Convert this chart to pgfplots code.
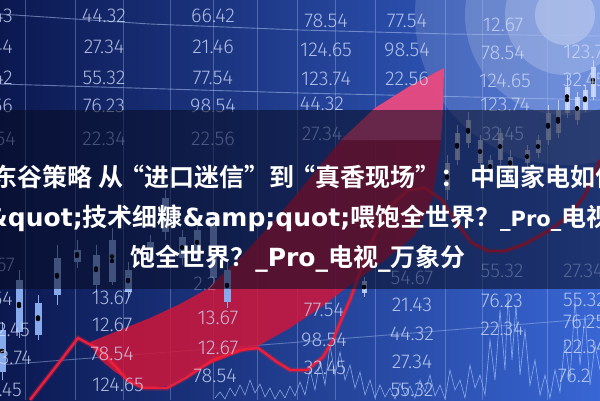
\documentclass[border=0pt]{standalone}
\usepackage{pgfplots}
\pgfplotsset{compat=1.18}
\usepackage{fontspec}
\setmainfont{Liberation Sans}
\newfontfamily\numfont{Fira Sans Light}
\newfontfamily\cjk{Noto Sans CJK SC Bold}
\newfontfamily\latfont{DejaVu Sans Bold}
\newcommand\latx[1]{{\latfont #1}}
\newcommand\latsm[1]{{\latfont\fontsize{21}{21}\selectfont #1}}
\pgfdeclarelayer{bglayer}
\pgfsetlayers{bglayer,main}
\definecolor{bgL}{HTML}{0B1850}
\definecolor{bgM}{HTML}{1F3C96}
\definecolor{bgR}{HTML}{3866D4}
\definecolor{numc}{HTML}{D2DEFA}
\definecolor{gridc}{HTML}{A8C0F0}
\definecolor{pinkc}{HTML}{EC5A94}
\definecolor{redc}{HTML}{D0163A}
\definecolor{lineR}{HTML}{EC1E3C}
\definecolor{candleW}{HTML}{D6E2FF}
\definecolor{candleB}{HTML}{86AAEC}
\definecolor{bandc}{HTML}{070B20}
\definecolor{noisec}{HTML}{A8C6FF}
\begin{document}
\begin{tikzpicture}
\begin{axis}[
  scale only axis, width=600pt, height=400pt,
  xmin=0, xmax=600, ymin=0, ymax=400, y dir=reverse,
  hide axis, clip=false,
]
\coordinate (O) at (axis cs:0,0);
\coordinate (SW) at (axis cs:0,400);
\coordinate (NE) at (axis cs:600,0);
% grid lines
\addplot[gridc, line width=0.6pt, opacity=0.35] coordinates {(25,0) (25,400)};
\addplot[gridc, line width=0.6pt, opacity=0.35] coordinates {(75,0) (75,400)};
\addplot[gridc, line width=0.6pt, opacity=0.35] coordinates {(123,0) (123,400)};
\addplot[gridc, line width=0.6pt, opacity=0.35] coordinates {(170,0) (170,400)};
\addplot[gridc, line width=0.6pt, opacity=0.35] coordinates {(213,0) (213,400)};
\addplot[gridc, line width=0.6pt, opacity=0.35] coordinates {(257,0) (257,400)};
\addplot[gridc, line width=0.6pt, opacity=0.35] coordinates {(297,0) (297,400)};
\addplot[gridc, line width=0.6pt, opacity=0.35] coordinates {(335,0) (335,400)};
\addplot[gridc, line width=0.6pt, opacity=0.35] coordinates {(375,0) (375,400)};
\addplot[gridc, line width=0.6pt, opacity=0.35] coordinates {(445,0) (445,400)};
\addplot[gridc, line width=0.6pt, opacity=0.35] coordinates {(482,0) (482,400)};
\addplot[gridc, line width=0.6pt, opacity=0.35] coordinates {(547,0) (547,400)};
\addplot[gridc, line width=0.9pt, opacity=0.55] coordinates {(0,14) (150,24) (300,30) (450,34) (600,36)};
\addplot[gridc, line width=0.9pt, opacity=0.55] coordinates {(0,84) (300,93) (600,100)};
\addplot[gridc, line width=0.9pt, opacity=0.45] coordinates {(0,365) (300,342) (600,318)};
% red swoosh
\addplot[draw=none, fill=redc, fill opacity=0.85] coordinates {
 (90,342) (120,330) (150,318) (180,304) (207,289) (240,258) (275,220) (310,178) (341,140) (375,108) (410,86) (444,68)
 (443,107) (440,150) (432,200) (415,235) (385,260) (350,285) (320,308) (290,328) (258,346) (230,356) (200,368)
 (167,386) (143,388) (115,372) (98,358) (90,342)};
\addplot[draw=none, fill=pinkc, fill opacity=0.75] coordinates {
 (341,140) (375,108) (410,86) (444,68) (443,107) (441,140) (341,140)};
% candles: wicks and bodies (y in pixels from top)
\addplot[only marks, mark=none, error bars/.cd, y dir=both, y explicit, error mark=none,
  error bar style={draw=candleW, line width=1pt, draw opacity=0.8}] coordinates {
 (447,177.5) +- (0,22.5) (457,145) +- (0,20) (468,130) +- (0,18) (480,151.5) +- (0,16.5)
 (490,166.5) +- (0,11.5) (500,146.5) +- (0,18.5) (510,162.5) +- (0,12.5) (527,156.5) +- (0,11.5)
 (538,146.5) +- (0,11.5) (548,125) +- (0,20) (558,119) +- (0,19) (567,96.5) +- (0,21.5)
 (577,108.5) +- (0,16.5) (585,98.5) +- (0,13.5) (593,80) +- (0,20) (364,287) +- (0,10)};
\addplot[only marks, mark=none, error bars/.cd, y dir=both, y explicit, error mark=none,
  error bar style={draw=candleW, line width=5pt, draw opacity=0.8}] coordinates {
 (447,176.5) +- (0,13.5) (457,146.5) +- (0,13.5) (468,131.5) +- (0,11.5) (480,151.5) +- (0,11.5)
 (490,166.5) +- (0,6.5) (500,146.5) +- (0,13.5) (510,163.5) +- (0,6.5) (527,156.5) +- (0,6.5)
 (538,146.5) +- (0,6.5) (548,126.5) +- (0,13.5) (558,121.5) +- (0,11.5) (567,100) +- (0,13)
 (577,108.5) +- (0,11.5) (585,100) +- (0,10) (593,82) +- (0,15) (364,287) +- (0,6)};
\addplot[only marks, mark=none, error bars/.cd, y dir=both, y explicit, error mark=none,
  error bar style={draw=candleB, line width=1pt}] coordinates {
 (2,351) +- (0,29) (19,304) +- (0,34) (38,317.5) +- (0,22.5) (57,275) +- (0,30)
 (77,254) +- (0,14) (96,268.5) +- (0,23.5) (112,256.5) +- (0,28.5) (128,280) +- (0,18)
 (150,250) +- (0,15) (165,215) +- (0,25) (182,247.5) +- (0,17.5) (197,242) +- (0,20)
 (213,248.5) +- (0,33.5) (227,285) +- (0,23)};
\addplot[only marks, mark=none, error bars/.cd, y dir=both, y explicit, error mark=none,
  error bar style={draw=candleB, line width=7pt}] coordinates {
 (2,351) +- (0,21) (19,306) +- (0,26) (38,319) +- (0,16) (57,276.5) +- (0,18.5)
 (77,256) +- (0,6) (96,270) +- (0,15) (112,261) +- (0,21) (128,281) +- (0,11)
 (150,251) +- (0,9) (165,215) +- (0,17) (182,247.5) +- (0,10.5) (197,242.5) +- (0,12.5)
 (213,250) +- (0,28) (227,286) +- (0,16)};
% noise waveform
\addplot[noisec, line width=0.6pt, opacity=0.75] coordinates {
 (215,398) (220,392) (225,399) (230,388) (235,396) (240,385) (245,395) (250,380) (255,393) (260,384)
 (265,397) (270,388) (275,399) (280,390) (285,398) (290,386) (295,396) (300,382) (305,395) (310,370)
 (315,390) (320,360) (325,385) (330,345) (335,375) (340,352) (345,380) (350,365) (355,388) (360,372)
 (365,395) (370,380) (375,398) (380,385) (385,397) (390,388) (395,399) (400,383) (405,395) (410,386)
 (415,398) (420,380) (425,392) (430,375) (435,396) (440,385) (445,399) (450,370) (455,390) (460,380)
 (465,398) (470,365) (475,388) (480,375) (485,395) (490,340) (495,380) (500,310) (505,370) (508,295)
 (512,360) (516,305) (520,375) (525,330) (530,385) (535,360) (540,395) (545,375) (550,398) (555,370)
 (560,392) (565,340) (570,380) (575,300) (580,365) (585,315) (590,385) (595,345) (600,370)};
% red line
\addplot[lineR, line width=5pt, opacity=0.3] coordinates {
 (30,400) (55,368) (78,338) (100,350) (115,366) (127,380) (143,388) (167,388) (187,377) (213,360)
 (240,350) (258,348) (277,362) (290,370) (307,370) (323,357) (333,340) (342,318) (350,300) (358,278)
 (366,255) (378,228) (392,205) (408,190) (425,188) (442,200) (458,225) (472,243) (488,251) (505,251)
 (525,244) (550,230) (570,215) (585,195) (595,172) (600,160)};
\addplot[lineR, line width=2.4pt] coordinates {
 (30,400) (55,368) (78,338) (100,350) (115,366) (127,380) (143,388) (167,388) (187,377) (213,360)
 (240,350) (258,348) (277,362) (290,370) (307,370) (323,357) (333,340) (342,318) (350,300) (358,278)
 (366,255) (378,228) (392,205) (408,190) (425,188) (442,200) (458,225) (472,243) (488,251) (505,251)
 (525,244) (550,230) (570,215) (585,195) (595,172) (600,160)};
\end{axis}
% background, below the axis
\begin{pgfonlayer}{bglayer}
\begin{scope}[shift={(O)}, x=1pt, y=-1pt]
\clip (0,0) rectangle (600,400);
\shade[left color=bgL, middle color=bgM, right color=bgR] (0,0) rectangle (600,400);
\fill[white, opacity=0.14] (565,15) circle[radius=150pt];
\fill[white, opacity=0.16] (565,15) circle[radius=100pt];
\fill[white, opacity=0.2] (565,15) circle[radius=60pt];
\fill[white, opacity=0.25] (565,15) circle[radius=30pt];
\end{scope}
\end{pgfonlayer}
% numbers, band and title, above the axis
\begin{scope}[shift={(O)}, x=1pt, y=-1pt]
\clip (0,0) rectangle (600,400);
\begin{scope}[every node/.style={inner sep=0pt, font=\numfont\fontsize{20}{20}\selectfont, text=numc, text opacity=0.8}]
\node[anchor=east] at (13,16) {12.43};
\node[anchor=east] at (13,47) {21.44};
\node[anchor=east] at (13,78) {98.42};
\node[anchor=east] at (13,106) {77.56};
\node at (104,16) {44.32};
\node at (104,47) {27.34};
\node at (104,78) {55.32};
\node at (104,106) {76.23};
\node at (213,16) {66.42};
\node at (213,47) {21.46};
\node at (213,78) {77.54};
\node at (213,106) {98.54};
\node at (326,21) {78.54};
\node at (326,50) {124.65};
\node at (326,79) {123.74};
\node at (322,104) {44.32};
\node at (407,21) {77.54};
\node at (407,50) {98.54};
\node at (407,79) {22.56};
\node at (503,25) {12.67};
\node at (503,53) {78.54};
\node at (505,81) {124.65};
\node at (505,105) {123.74};
\node[anchor=west] at (563,52) {123.74};
\node[anchor=west] at (563,80) {32.45};
\node[anchor=east] at (13,299) {78.54};
\node[anchor=east] at (30,330) {32.45};
\node[anchor=east] at (32,358) {123.74};
\node[anchor=east] at (22,390) {32.45};
\node at (112,298) {13.67};
\node at (112,325) {12.67};
\node at (112,354) {78.54};
\node at (118,385) {124.65};
\node at (218,318) {13.67};
\node at (218,348) {12.67};
\node at (215,376) {78.54};
\node at (324,310) {77.54};
\node at (324,340) {98.54};
\node at (325,368) {32.45};
\node at (412,305) {21.43};
\node at (412,334) {44.32};
\node at (412,362) {27.34};
\node at (412,390) {55.32};
\node at (502,301) {76.23};
\node at (502,329) {22.34};
\node[anchor=west] at (563,300) {55.32};
\node[anchor=west] at (563,322) {76.25};
\node[anchor=west] at (563,347) {22.34};
\node[anchor=west] at (558,376) {76.2};
\end{scope}
\fill[bandc, opacity=0.55] (0,110) rectangle (600,289);
\begin{scope}[every node/.style={inner sep=0pt, font=\numfont\fontsize{20}{20}\selectfont, text=numc, text opacity=0.3}]
\node[anchor=east] at (16,139) {12.54};
\node at (104,139) {22.34};
\node at (213,139) {22.56};
\node at (322,134) {27.34};
\node at (503,134) {32.45};
\node[anchor=east] at (15,265) {12.67};
\node at (205,284) {2.2};
\node at (412,278) {54.67};
\node at (502,271) {55.32};
\node[anchor=west] at (563,271) {27.34};
\end{scope}
\begin{scope}[every node/.style={inner sep=0pt, text=white, font=\cjk\fontsize{25}{25}\selectfont}]
\node[anchor=west] at (-8,177) {东谷策略\hspace{6pt}从\hspace{-4pt}“进口迷信”到\hspace{-4pt}“真香现场”：\hspace{5pt}中国家电如何用};
\node[anchor=west] at (-14,218) {\latx{\&quot;}技术细糠\latx{\&amp;quot;}喂饱全世界？\latsm{\_Pro\_}电视};
\node[anchor=center] at (298,259) {饱全世界？\latx{\_Pro\_}电视\latx{\_}万象分};
\end{scope}
\end{scope}
\pgfresetboundingbox
\useasboundingbox (SW) rectangle (NE);
\end{tikzpicture}
\end{document}
